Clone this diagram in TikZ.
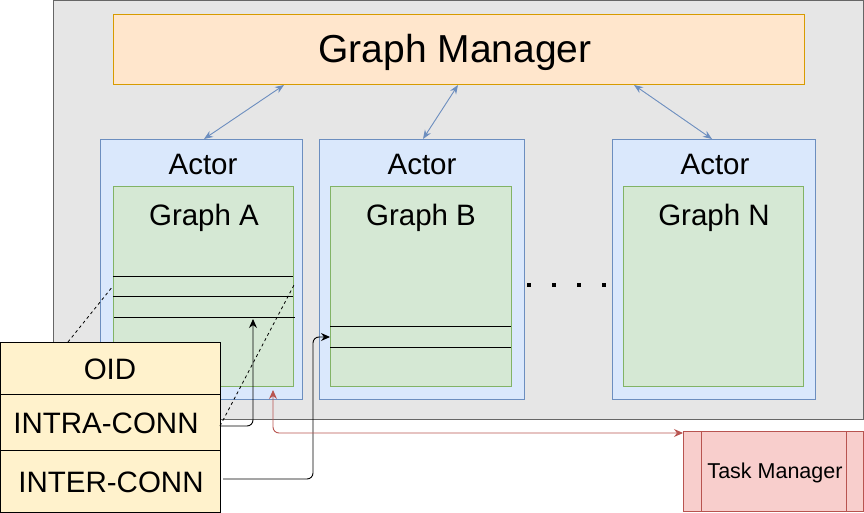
\documentclass[tikz,border=0pt]{standalone}
\usepackage{fontspec}
\setmainfont{Liberation Sans}
\usetikzlibrary{arrows.meta,calc}
\definecolor{bgfill}{HTML}{E6E6E6}
\definecolor{bgline}{HTML}{666666}
\definecolor{gmfill}{HTML}{FFE6CC}
\definecolor{gmline}{HTML}{D79B00}
\definecolor{acfill}{HTML}{DAE8FC}
\definecolor{acline}{HTML}{6C8EBF}
\definecolor{grfill}{HTML}{D5E8D4}
\definecolor{grline}{HTML}{82B366}
\definecolor{tbfill}{HTML}{FFF2CC}
\definecolor{tmfill}{HTML}{F8CECC}
\definecolor{tmline}{HTML}{B85450}
\begin{document}
\begin{tikzpicture}[x=1pt,y=-1pt,
  box/.style={draw, line width=0.9pt, inner sep=0pt, outer sep=0pt, anchor=north west},
  bgbox/.style={box, fill=bgfill, draw=bgline},
  gmbox/.style={box, fill=gmfill, draw=gmline},
  actorbox/.style={box, fill=acfill, draw=acline},
  graphbox/.style={box, fill=grfill, draw=grline},
  rowbox/.style={box, fill=tbfill, draw=black, minimum width=220pt},
  tmbox/.style={box, fill=tmfill, draw=tmline},
  lbl/.style={inner sep=0pt, font=\fontsize{29.5}{34}\selectfont},
  sep/.style={draw=black, line width=0.9pt},
  blueconn/.style={draw=acline, line width=0.9pt, {Stealth[length=9pt,width=7pt]}-{Stealth[length=9pt,width=7pt]}},
  blkconn/.style={draw=black, line width=0.9pt, rounded corners=6pt, -{Stealth[length=9pt,width=8pt]}},
  redconn/.style={draw=tmline, line width=0.9pt, rounded corners=6pt, {Stealth[length=9pt,width=8pt]}-{Stealth[length=9pt,width=8pt]}},
  dashconn/.style={draw=black, line width=0.8pt, dash pattern=on 3pt off 3pt},
  dotmark/.style={fill=black, inner sep=0pt, minimum size=4.5pt}
]
\useasboundingbox (0,0) rectangle (864,513);

% background
\node[bgbox, minimum width=810pt, minimum height=419pt] (bg) at (53.5,0) {};

% graph manager
\node[gmbox, minimum width=691pt, minimum height=70pt] (gm) at (113,14) {};
\node[lbl, font=\fontsize{39}{46}\selectfont] (gmt) at (455,52) {Graph Manager};

% actors
\node[actorbox, minimum width=202pt, minimum height=260pt] (actA) at (100,139) {};
\node[actorbox, minimum width=205pt, minimum height=260pt] (actB) at (319,139) {};
\node[actorbox, minimum width=203pt, minimum height=260pt] (actN) at (612,139) {};
\node[lbl] (tA) at (203,164) {Actor};
\node[lbl] (tB) at (422,164) {Actor};
\node[lbl] (tN) at (715,164) {Actor};

% graphs
\node[graphbox, minimum width=180pt, minimum height=200pt] (grA) at (113,186) {};
\node[graphbox, minimum width=181pt, minimum height=200pt] (grB) at (330,186) {};
\node[graphbox, minimum width=180pt, minimum height=200pt] (grN) at (623,186) {};
\node[lbl] (gA) at (204,218) {Graph A};
\node[lbl] (gB) at (421,218) {Graph B};
\node[lbl] (gN) at (714,218) {Graph N};

% rows in graph A and B
\draw[sep] (113,276) -- (293,276);
\draw[sep] (113,296) -- (293,296);
\draw[sep] (114,317) -- (295,317);
\draw[sep] (330,326) -- (511,326);
\draw[sep] (330,347) -- (511,347);

% dots
\node[dotmark] (d1) at (529,285) {};
\node[dotmark] (d2) at (554,285) {};
\node[dotmark] (d3) at (579,285) {};
\node[dotmark] (d4) at (604,285) {};

% manager-actor connectors
\coordinate (gm1) at (284,85);
\coordinate (gm2) at (458,85);
\coordinate (gm3) at (634,85);
\draw[blueconn] (gm1) -- (actA.north -| 204,0);
\draw[blueconn] (gm2) -- (actB.north -| 423,0);
\draw[blueconn] (gm3) -- (actN.north -| 712,0);

% table
\node[rowbox, minimum height=52pt] (oid) at (0,342) {};
\node[rowbox, minimum height=56pt] (intra) at (0,394) {};
\node[rowbox, minimum height=62pt] (inter) at (0,450) {};
\node[lbl] (toid) at (110,369) {OID};
\node[lbl] (tintra) at (106,423) {INTRA-CONN};
\node[lbl] (tinter) at (111,482) {INTER-CONN};

% dashed lines
\coordinate (dA1) at (68,342);
\coordinate (dA2) at (113,286);
\coordinate (dB1) at (220,426);
\coordinate (dB2) at (294,285);
\draw[dashconn] (dA1) -- (dA2);
\draw[dashconn] (dB1) -- (dB2);

% intra / inter connectors
\coordinate (intraS) at (220,426);
\coordinate (intraE) at (253,319);
\draw[blkconn] (intraS) -| (intraE);
\coordinate (interS) at (223,479);
\coordinate (interE) at (330,337);
\draw[blkconn] (interS) -| (313,337) -- (interE);

% task manager
\node[tmbox, minimum width=180pt, minimum height=80pt] (tm) at (683,431) {};
\draw[draw=tmline, line width=0.9pt] (701,431) -- (701,511);
\draw[draw=tmline, line width=0.9pt] (846,431) -- (846,511);
\node[lbl, font=\fontsize{21.5}{25}\selectfont] (ttm) at (775,473) {Task Manager};

\coordinate (tmS) at (683,433);
\coordinate (tmE) at (273,390);
\draw[redconn] (tmS) -| (tmE);
\end{tikzpicture}
\end{document}
